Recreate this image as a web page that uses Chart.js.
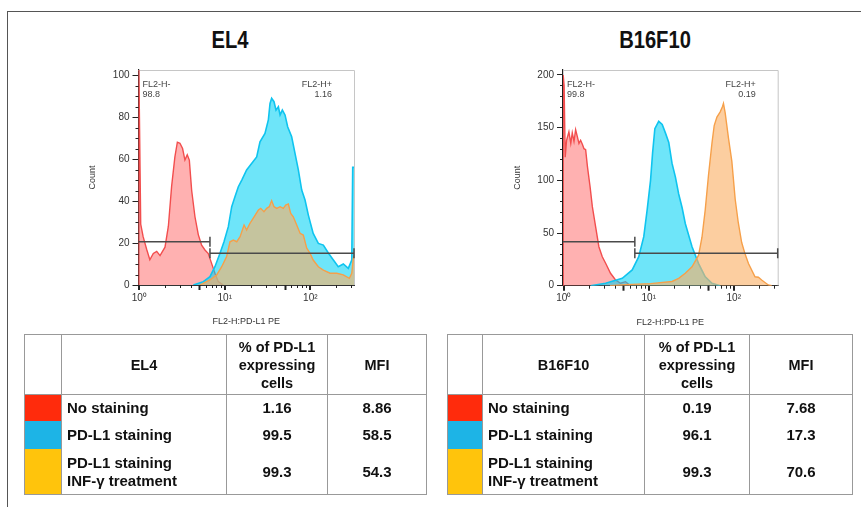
<!DOCTYPE html>
<html><head><meta charset="utf-8">
<script src="https://cdn.jsdelivr.net/npm/chart.js@4.4.0/dist/chart.umd.min.js"></script>
<style>
body{margin:0;background:#fff;}
#wrap{position:relative;width:861px;height:507px;overflow:hidden;background:#fff;font-family:"Liberation Sans",Arial,sans-serif;}
#frame{position:absolute;left:7px;top:11px;right:-2px;bottom:-2px;border-top:1px solid #555;border-left:1px solid #555;}
.title{position:absolute;font-family:"Liberation Sans Narrow","Arial Narrow","Liberation Sans",sans-serif;font-weight:bold;font-size:24px;color:#111;text-align:center;width:160px;line-height:26px;transform:scaleX(0.84);}
.cv{position:absolute;}
table{position:absolute;border-collapse:collapse;font-weight:bold;color:#111;table-layout:fixed;font-size:15px;border:1px solid #999;}
td{border-left:1px solid #999;border-right:1px solid #999;padding:0;text-align:center;line-height:18px;}
tr.hdr td{border-bottom:1px solid #999;height:59px;}
td.name{text-align:left;padding-left:5px;}
</style>
</head><body>
<div id="wrap">
  <div id="frame"></div>
  <div class="title" style="left:150px;top:27px;">EL4</div>
  <div class="title" style="left:575px;top:27px;">B16F10</div>
  <canvas id="c1" class="cv" width="290" height="275" style="left:80px;top:60px;"></canvas>
  <canvas id="c2" class="cv" width="290" height="276" style="left:505px;top:60px;"></canvas>
  <table id="t1" style="left:24px;top:334px;width:402px;"></table>
  <table id="t2" style="left:447px;top:334px;width:405px;"></table>
</div>
<script>
// ---------- DATA ----------
const el4RedX = [0.98, 0.985, 1.04, 1.11, 1.22, 1.33, 1.46, 1.6, 1.75, 2.0, 2.19, 2.39, 2.61, 2.79, 2.99, 3.21, 3.42, 3.64, 3.85, 4.1, 4.48, 4.9, 5.36, 5.86, 6.41, 7.01, 7.67, 8.39, 9.6];
const el4RedY = [0, 110, 29, 23, 17, 12, 15, 16, 14, 18, 28, 47, 61, 68, 67.5, 65, 59.5, 62, 59.5, 45, 32.5, 24, 19, 16.7, 15, 10.3, 5.6, 1.6, 0];
const el4BlueX = [4.29, 5.61, 6.71, 7.67, 8.79, 9.79, 11.0, 12.05, 13.15, 14.4, 15.8, 18.0, 20.7, 23.6, 25.8, 29.5, 32.3, 33.8, 35.3, 37.6, 39.7, 42.3, 44.3, 47.1, 50.6, 54.3, 60.5, 66.2, 72.4, 79.3, 86.7, 94.8, 108, 124, 142, 163, 186, 212, 243, 278, 305, 313, 324];
const el4BlueY = [0, 1.6, 4, 8.7, 15.1, 20.6, 27.8, 37.3, 42, 46.8, 50, 54.8, 58, 61, 68.2, 72.2, 78.6, 86.5, 88.9, 87.3, 83.3, 84.9, 81, 83.3, 81, 75.4, 70.6, 62.7, 54.8, 45.2, 40.5, 33.3, 24.6, 19.8, 19, 15.1, 11.9, 8.7, 10, 7.9, 11.9, 56, 56];
const el4OrangeX = [5.13, 6.71, 8.04, 9.2, 10.5, 11.5, 12.6, 13.8, 15.1, 16.8, 18.0, 19.7, 22.0, 24.7, 26.3, 28.7, 30.9, 33.1, 35.3, 37.6, 40.5, 44.3, 48.3, 51.5, 55.3, 59.0, 63.2, 69.3, 75.9, 82.8, 90.8, 99.2, 108, 124, 142, 170, 204, 243, 286, 305, 318, 324];
const el4OrangeY = [0, 2.4, 4.8, 8.7, 13.5, 20.6, 21.4, 20.6, 23, 28.6, 26.2, 29.4, 32.5, 35.7, 36.5, 34.9, 36.5, 37.3, 40.2, 37.3, 36.5, 37.3, 36.5, 38.1, 38.6, 34.1, 32.5, 28.6, 24.6, 23.8, 17.5, 15.1, 11.9, 8.7, 7.1, 5.6, 5.6, 4.8, 3.2, 5.6, 12.7, 14];

const b16RedX = [0.98, 0.985, 1.01, 1.04, 1.08, 1.15, 1.21, 1.26, 1.32, 1.38, 1.45, 1.51, 1.58, 1.66, 1.73, 1.81, 1.90, 2.04, 2.17, 2.37, 2.59, 2.84, 3.11, 3.55, 4.07, 4.66, 5.33, 6.10];
const b16RedY = [0, 200, 190, 122, 138, 146, 135, 145, 137, 148, 141, 135, 138, 134, 130, 129, 113, 94, 75, 56, 37, 27.5, 21.3, 11.8, 5.4, 2.3, 3.8, 0];
const b16BlueX = [2.07, 3.11, 4.88, 6.39, 7.63, 8.74, 9.58, 10.5, 11.1, 11.8, 13.1, 14.4, 15.7, 17.2, 18.8, 20.6, 22.5, 24.7, 26.9, 32.3, 38.6, 46.2, 55.4, 69.3];
const b16BlueY = [0, 2.3, 7, 15, 27.5, 46.5, 72, 100, 126, 149, 156, 153, 145, 136, 116, 103, 87, 74, 59, 37, 21, 8.5, 2.3, 0];
const b16OrangeX = [3.5, 5.33, 10.5, 18.8, 22.5, 26.9, 32.3, 38.6, 42.3, 46.2, 50.5, 55.4, 58.9, 63.4, 69.3, 73.8, 75.7, 79.3, 86.7, 95.0, 104, 113, 124, 136, 149, 178, 195, 213, 255, 280];
const b16OrangeY = [0, 1, 2, 4, 7, 11.8, 18, 29, 46, 72, 105, 135, 152, 160, 165, 170, 173, 164, 140, 118, 82, 60, 41, 30, 21, 8.5, 8, 5.4, 0.7, 0];

// gates: [negative gate y, split x, positive gate y]
const el4Gate = [20.6, 6.71, 15.1];
const b16Gate = [41.8, 6.86, 30.7];
const el4GateLabels = ['FL2-H-', '98.8', 'FL2-H+', '1.16'];
const b16GateLabels = ['FL2-H-', '99.8', 'FL2-H+', '0.19'];

const xMajorTicks = [1, 10, 100];
const xTickLabels = ['10\u2070', '10\u00b9', '10\u00b2'];
const xMinorTicks = [2, 3, 4, 5, 6, 7, 8, 9, 20, 30, 40, 50, 60, 70, 80, 90, 200, 300];
const xBoldMinor = [5, 50];
const el4YTicks = [0, 20, 40, 60, 80, 100];
const el4YMinor = [5, 10, 15, 25, 30, 35, 45, 50, 55, 65, 70, 75, 85, 90, 95];
const b16YTicks = [0, 50, 100, 150, 200];
const b16YMinor = [10, 20, 30, 40, 60, 70, 80, 90, 110, 120, 130, 140, 160, 170, 180, 190];

const xAxisTitle = 'FL2-H:PD-L1 PE';
const yAxisTitle = 'Count';

const rowNames = ['No staining', 'PD-L1 staining', 'PD-L1 staining<br>INF-\u03b3 treatment'];
const rowColors = ['#FF2B0C', '#1DB4E6', '#FFC40C'];
const pctHeader = '% of PD-L1<br>expressing<br>cells';
const mfiHeader = 'MFI';
const el4Pct = ['1.16', '99.5', '99.3'];
const el4Mfi = ['8.86', '58.5', '54.3'];
const b16Pct = ['0.19', '96.1', '99.3'];
const b16Mfi = ['7.68', '17.3', '70.6'];

// ---------- CHARTS ----------
const pts = (xs, ys) => xs.map((x, i) => ({x: x, y: ys[i]}));

const decor = {
  id: 'decor',
  beforeDatasetsDraw(chart, args, o) {
    const {ctx, chartArea: a} = chart;
    ctx.save();
    ctx.strokeStyle = '#c6c6c6'; ctx.lineWidth = 1;
    ctx.beginPath();
    ctx.moveTo(a.left, a.top + 0.5); ctx.lineTo(a.right + 0.5, a.top + 0.5); ctx.lineTo(a.right + 0.5, a.bottom);
    ctx.stroke();
    ctx.restore();
  },
  afterDraw(chart, args, o) {
    const {ctx, chartArea: a, scales: {x, y}} = chart;
    ctx.save();
    ctx.strokeStyle = '#222';
    o.xMinor.forEach(v => {
      const px = Math.round(x.getPixelForValue(v)) + 0.5;
      const bold = o.xBold.includes(v);
      ctx.lineWidth = bold ? 2 : 1;
      ctx.beginPath(); ctx.moveTo(px, a.bottom); ctx.lineTo(px, a.bottom + (bold ? 5 : 3)); ctx.stroke();
    });
    ctx.lineWidth = 1;
    o.yMinor.forEach(v => {
      const py = Math.round(y.getPixelForValue(v)) + 0.5;
      ctx.beginPath(); ctx.moveTo(a.left, py); ctx.lineTo(a.left - 3, py); ctx.stroke();
    });
    ctx.fillStyle = '#444';
    ctx.font = '9px "Liberation Sans", Arial, sans-serif';
    ctx.textAlign = 'left';
    ctx.fillText(o.labels[0], a.left + 4, a.top + 17);
    ctx.fillText(o.labels[1], a.left + 4, a.top + 27);
    ctx.textAlign = 'right';
    ctx.fillText(o.labels[2], a.right - 22, a.top + 17);
    ctx.fillText(o.labels[3], a.right - 22, a.top + 27);
    ctx.restore();
  }
};

function makeChart(id, cfg) {
  const gateStyle = {borderColor: '#4a4a4a', borderWidth: 1.5, pointStyle: 'line', rotation: 90,
    pointBorderColor: '#4a4a4a', pointBorderWidth: 1.5, pointHoverRadius: 0, fill: false, clip: 8, order: -1};
  const xMin = 0.98;
  return new Chart(document.getElementById(id), {
    type: 'line',
    data: {
      datasets: [
        {data: pts(cfg.redX, cfg.redY), borderColor: '#F24E4E', backgroundColor: 'rgba(255,60,60,0.40)', fill: 'origin', borderWidth: 1.4, pointRadius: 0, order: 2},
        {data: pts(cfg.blueX, cfg.blueY), borderColor: '#0FC4EF', backgroundColor: 'rgba(0,210,245,0.57)', fill: 'origin', borderWidth: 1.6, pointRadius: 0, order: 1},
        {data: pts(cfg.orX, cfg.orY), borderColor: '#F6A04A', backgroundColor: 'rgba(250,176,102,0.62)', fill: 'origin', borderWidth: 1.4, pointRadius: 0, order: 0},
        Object.assign({data: [{x: xMin, y: cfg.gate[0]}, {x: cfg.gate[1], y: cfg.gate[0]}], pointRadius: [0, 5]}, gateStyle),
        Object.assign({data: [{x: cfg.gate[1], y: cfg.gate[2]}, {x: cfg.xMax, y: cfg.gate[2]}], pointRadius: [5, 5]}, gateStyle)
      ]
    },
    options: {
      responsive: false, animation: false, devicePixelRatio: 1,
      layout: {padding: cfg.pad},
      elements: {line: {tension: 0}},
      plugins: {legend: {display: false}, tooltip: {enabled: false},
        decor: {xMinor: xMinorTicks, xBold: xBoldMinor, yMinor: cfg.yMinor, labels: cfg.labels}},
      scales: {
        x: {type: 'logarithmic', min: xMin, max: cfg.xMax,
          afterBuildTicks: s => { s.ticks = xMajorTicks.map(v => ({value: v, major: true})); },
          afterFit: s => { s.height = cfg.xH; },
          ticks: {color: '#333', font: {size: 10, family: '"Liberation Sans", Arial'}, padding: 2, maxRotation: 0, autoSkip: false,
            callback: v => { const i = xMajorTicks.indexOf(v); return i >= 0 ? xTickLabels[i] : ''; }},
          grid: {display: true, drawOnChartArea: false, drawTicks: true, tickLength: 5, color: '#222', lineWidth: 2},
          border: {display: true, color: '#333', width: 1},
          title: {display: true, text: xAxisTitle, color: '#333', font: {size: 9, family: '"Liberation Sans", Arial'}, padding: {top: 0, bottom: 8}}
        },
        y: {type: 'linear', min: 0, max: cfg.yMax,
          afterBuildTicks: s => { s.ticks = cfg.yTicks.map(v => ({value: v})); },
          afterFit: s => { s.width = cfg.yW; },
          ticks: {color: '#333', font: {size: 10, family: '"Liberation Sans", Arial'}, padding: 3, autoSkip: false},
          grid: {display: true, drawOnChartArea: false, drawTicks: true, tickLength: 6, color: '#222', lineWidth: 1},
          border: {display: true, color: '#222', width: 1.2},
          title: {display: true, text: yAxisTitle, color: '#333', font: {size: 9, family: '"Liberation Sans", Arial'}, padding: {top: 7, bottom: 0}}
        }
      }
    },
    plugins: [decor]
  });
}

makeChart('c1', {redX: el4RedX, redY: el4RedY, blueX: el4BlueX, blueY: el4BlueY, orX: el4OrangeX, orY: el4OrangeY,
  gate: el4Gate, labels: el4GateLabels, yTicks: el4YTicks, yMinor: el4YMinor, yMax: 102.4, xMax: 324,
  pad: {top: 10, right: 16, left: 0, bottom: 0}, yW: 58.5, xH: 50});
makeChart('c2', {redX: b16RedX, redY: b16RedY, blueX: b16BlueX, blueY: b16BlueY, orX: b16OrangeX, orY: b16OrangeY,
  gate: b16Gate, labels: b16GateLabels, yTicks: b16YTicks, yMinor: b16YMinor, yMax: 204.7, xMax: 329,
  pad: {top: 10, right: 17.3, left: 0, bottom: 0}, yW: 58, xH: 50.3});

// ---------- TABLES ----------
function buildTable(id, title, widths, pct, mfi) {
  const t = document.getElementById(id);
  let h = '<colgroup>' + widths.map(w => '<col style="width:' + w + 'px">').join('') + '</colgroup>';
  h += '<tr class="hdr"><td></td><td style="font-size:14.5px">' + title + '</td><td style="font-size:14.5px">' + pctHeader + '</td><td style="font-size:14.5px">' + mfiHeader + '</td></tr>';
  const hts = [26, 28, 45];
  rowNames.forEach((n, i) => {
    h += '<tr><td style="background:' + rowColors[i] + ';height:' + hts[i] + 'px"></td><td class="name">' + n + '</td><td>' + pct[i] + '</td><td>' + mfi[i] + '</td></tr>';
  });
  t.innerHTML = h;
}
buildTable('t1', 'EL4', [37, 165, 101, 99], el4Pct, el4Mfi);
buildTable('t2', 'B16F10', [35, 162, 105, 103], b16Pct, b16Mfi);
</script>
</body></html>
